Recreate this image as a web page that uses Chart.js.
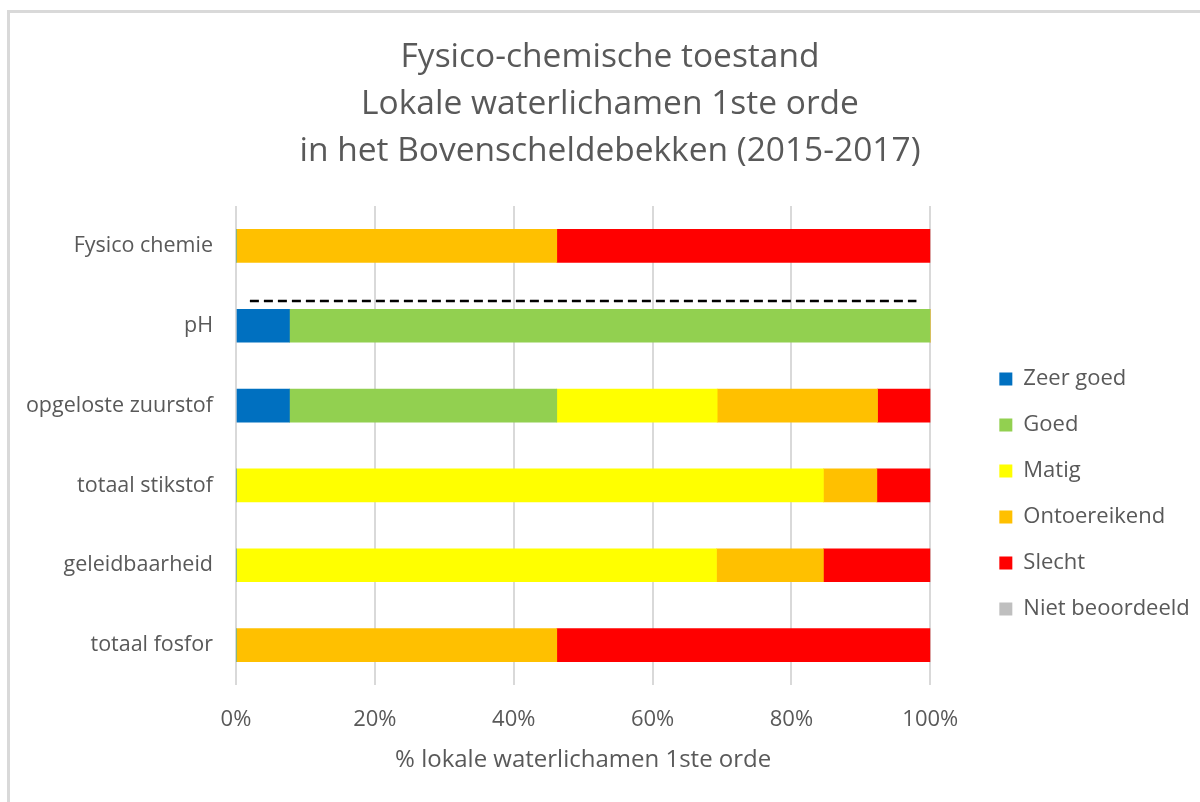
<!DOCTYPE html>
<html>
<head>
<meta charset="utf-8">
<script src="https://cdn.jsdelivr.net/npm/chart.js@4.4.1/dist/chart.umd.min.js"></script>
<style>
  html, body { margin: 0; padding: 0; background: #fff; }
  #wrap { position: relative; width: 1200px; height: 802px; }
  #frame { position: absolute; left: 7px; top: 10px; right: 0; bottom: 0;
           border-top: 3px solid #d9d9d9; border-left: 3px solid #d9d9d9; pointer-events: none; }
</style>
</head>
<body>
<div id="wrap">
  <canvas id="myChart" width="1200" height="802"></canvas>
  <div id="frame"></div>
</div>
<script>
// categories (top to bottom)
var categories = ['Fysico chemie', 'pH', 'opgeloste zuurstof', 'totaal stikstof', 'geleidbaarheid', 'totaal fosfor'];

// % of local water bodies per class
var zeerGoed       = [0,    7.7, 7.7,  0,    0,    0];
var goed           = [0,   92.3, 38.5, 0,    0,    0];
var matig          = [0,    0,   23.1, 84.6, 69.2, 0];
var ontoereikend   = [46.2, 0,   23.1, 7.7,  15.4, 46.2];
var slecht         = [53.8, 0,   7.7,  7.7,  15.4, 53.8];
var nietBeoordeeld = [0,    0,   0,    0,    0,    0];

var xTicks = [0, 20, 40, 60, 80, 100];

// dashed separator between "Fysico chemie" and the parameters
var separatorAt = 0.69;                  // in category units
var separatorFrom = 2, separatorTo = 98; // in %

var textColor = '#595959';
var fontFamily = '"Open Sans", sans-serif';

var separatorPlugin = {
    id: 'separator',
    afterDatasetsDraw: function(chart) {
        var ctx = chart.ctx;
        var x = chart.scales.x, y = chart.scales.y;
        var yPix = y.getPixelForValue(0) + (y.getPixelForValue(1) - y.getPixelForValue(0)) * separatorAt;
        ctx.save();
        ctx.strokeStyle = '#000';
        ctx.lineWidth = 2.5;
        ctx.setLineDash([9, 5]);
        ctx.beginPath();
        ctx.moveTo(x.getPixelForValue(separatorFrom), yPix);
        ctx.lineTo(x.getPixelForValue(separatorTo), yPix);
        ctx.stroke();
        ctx.restore();
    }
};

// move the legend a bit: closer to the bars, lower down, and let it run to the edge
var legendPlace = {
    id: 'legendPlace',
    afterLayout: function(chart) {
        var lg = chart.legend;
        lg.left = chart.chartArea.right + 45;
        lg.right = chart.width;
        lg.width = lg.right - lg.left;
        lg.top += 98; lg.bottom += 98;
    }
};

window.addEventListener('DOMContentLoaded', function() {
    var ctx = document.getElementById('myChart').getContext('2d');
    var chart = new Chart(ctx, {
        type: 'bar',
        data: {
            labels: categories,
            datasets: [
                { label: 'Zeer goed', data: zeerGoed, backgroundColor: '#0070C0' },
                { label: 'Goed', data: goed, backgroundColor: '#92D050' },
                { label: 'Matig', data: matig, backgroundColor: '#FFFF00' },
                { label: 'Ontoereikend', data: ontoereikend, backgroundColor: '#FFC000' },
                { label: 'Slecht', data: slecht, backgroundColor: '#FF0000' },
                { label: 'Niet beoordeeld', data: nietBeoordeeld, backgroundColor: '#BFBFBF' }
            ]
        },
        options: {
            indexAxis: 'y',
            responsive: false,
            animation: false,
            layout: { padding: { left: 20, right: 0, bottom: 10 } },
            datasets: { bar: { barThickness: 33, borderWidth: 0 } },
            scales: {
                x: {
                    stacked: true,
                    min: 0,
                    max: 100,
                    afterBuildTicks: function(scale) {
                        scale.ticks = xTicks.map(function(v) { return { value: v }; });
                    },
                    afterFit: function(scale) { scale.height = 107; },
                    border: { display: false },
                    grid: { color: '#d9d9d9', lineWidth: 2, drawTicks: false },
                    ticks: {
                        padding: 22,
                        color: textColor,
                        font: { family: fontFamily, size: 22 },
                        callback: function(v) { return v + '%'; }
                    },
                    title: {
                        display: true,
                        text: '% lokale waterlichamen 1ste orde',
                        color: textColor,
                        font: { family: fontFamily, size: 24 },
                        padding: { top: 0, bottom: 17 }
                    }
                },
                y: {
                    stacked: true,
                    border: { display: false },
                    grid: { display: false, drawTicks: false },
                    ticks: {
                        padding: 23,
                        color: textColor,
                        font: { family: fontFamily, size: 21.5 }
                    },
                    afterFit: function(scale) { scale.width = 216; }
                },
                gap: {
                    type: 'category',
                    axis: 'y',
                    position: 'right',
                    border: { display: false },
                    grid: { display: false },
                    ticks: { display: false },
                    afterFit: function(scale) { scale.width = 73; }
                }
            },
            plugins: {
                title: {
                    display: true,
                    text: ['Fysico-chemische toestand', 'Lokale waterlichamen 1ste orde', 'in het Bovenscheldebekken (2015-2017)'],
                    color: textColor,
                    font: { family: fontFamily, size: 33.5, weight: 'normal', lineHeight: 1.403 },
                    padding: { top: 34, bottom: 31 }
                },
                legend: {
                    position: 'right',
                    labels: {
                        boxWidth: 13,
                        boxHeight: 13,
                        padding: 24,
                        color: textColor,
                        font: { family: fontFamily, size: 22 }
                    }
                },
                tooltip: { enabled: false }
            }
        },
        plugins: [separatorPlugin, legendPlace]
    });
});
</script>
</body>
</html>
